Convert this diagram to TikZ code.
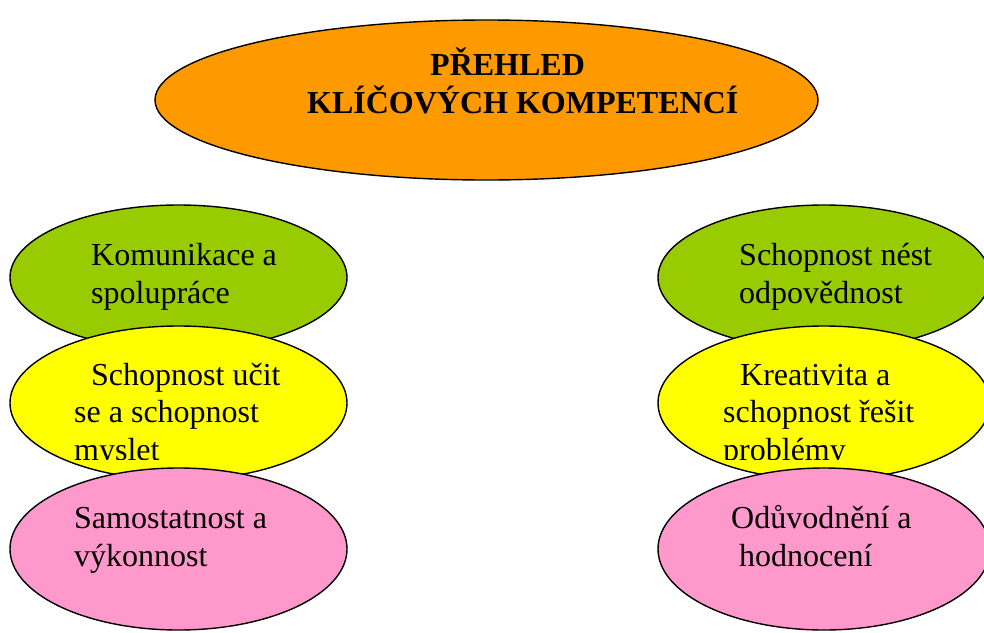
\documentclass[tikz,border=0pt]{standalone}
\usepackage{fontspec}
\setmainfont{Liberation Serif}
\usetikzlibrary{shapes.geometric}
\definecolor{titlec}{HTML}{FF9900}
\definecolor{grn}{HTML}{99CC00}
\definecolor{yel}{HTML}{FFFF00}
\definecolor{pnk}{HTML}{FF99CC}

\begin{document}
\begin{tikzpicture}[x=1pt,y=-1pt,
  oval/.style={ellipse,draw=black,line width=1.4pt,inner sep=0pt},
  txt/.style={anchor=base west,align=left,inner sep=0pt,
              font=\fontsize{32}{37.7}\selectfont},
]
\useasboundingbox (0,0) rectangle (984,632);

%---------------------------------------------------------------- title ---
\node[oval,fill=titlec,minimum width=663,minimum height=160] (title) at (486.5,100) {};
\node[txt,font=\fontsize{32}{37.7}\selectfont\bfseries] (titleT) at (307,113)
  {\hspace*{123pt}PŘEHLED\\KLÍČOVÝCH KOMPETENCÍ};

%------------------------------------------------------------- ellipses ---
\foreach \row/\c/\y/\h in {g/grn/277.5/145, y/yel/403/154, p/pnk/549/162}{
  \node[oval,fill=\c,minimum width=337,minimum height=\h] (\row L) at (178.5,\y) {};
  \node[oval,fill=\c,minimum width=332,minimum height=\h] (\row R) at (824,\y) {};
}

%----------------------------------------------------------- left column ---
\node[txt] (gLT) at (91,303) {Komunikace a\\spolupráce};
\begin{scope}
  \clip (0,320) rectangle (984,459.5);
  \node[txt] (yLT) at (74,460.4) {\hspace*{17pt}Schopnost učit\\se a schopnost\\myslet};
  \node[txt] (yRT) at (723,460.4) {\hspace*{17pt}Kreativita a\\schopnost řešit\\problémy};
\end{scope}
\node[txt] (pLT) at (74,566) {Samostatnost a\\výkonnost};

%---------------------------------------------------------- right column ---
\node[txt] (gRT) at (739,303) {Schopnost nést\\odpovědnost};
\node[txt] (pRT) at (731,566) {Odůvodnění a\\\hspace*{8pt}hodnocení};

\end{tikzpicture}
\end{document}
